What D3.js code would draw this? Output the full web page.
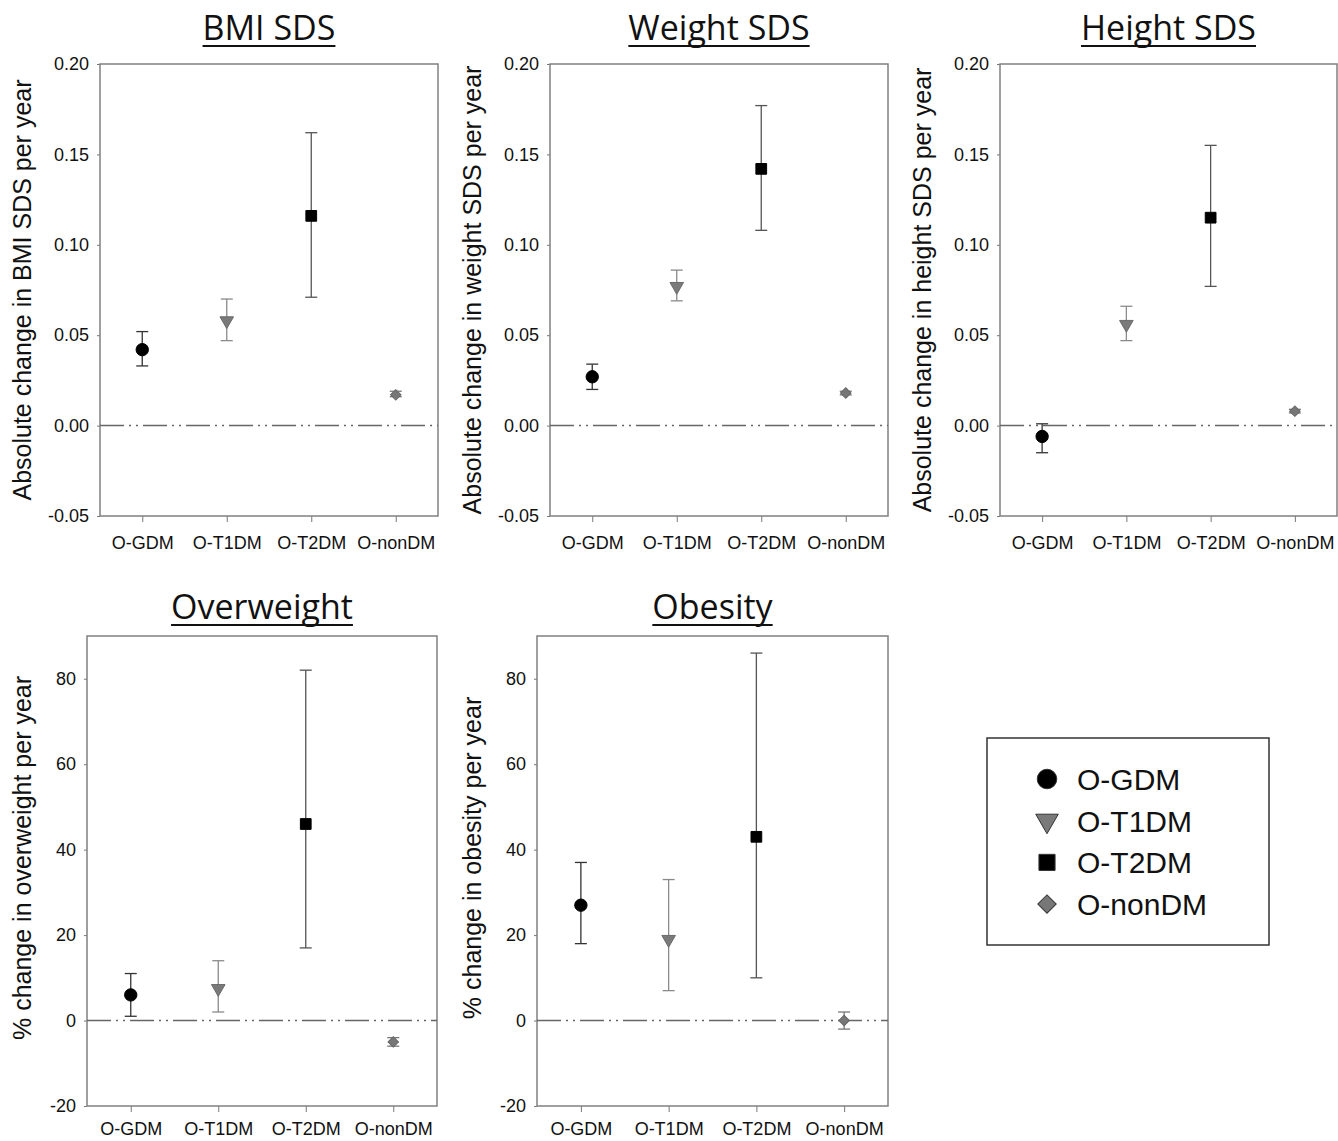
<!DOCTYPE html>
<html>
<head>
<meta charset="utf-8">
<script src="https://cdnjs.cloudflare.com/ajax/libs/d3/7.8.5/d3.min.js"></script>
<style>
  body { margin: 0; background: #fff; }
  text { font-family: "Liberation Sans", Arial, sans-serif; fill: #111; }
  .title { font-family: "Open Sans", "Noto Sans", sans-serif; font-size: 34px; }
</style>
</head>
<body>
<div id="chart"></div>
<script>
// groups and per-panel values (mean, lower CI, upper CI)
var groups = ['O-GDM', 'O-T1DM', 'O-T2DM', 'O-nonDM'];

var bmiMean = [0.042, 0.058, 0.116, 0.017];
var bmiLow  = [0.033, 0.047, 0.071, 0.016];
var bmiHigh = [0.052, 0.070, 0.162, 0.019];

var weightMean = [0.027, 0.077, 0.142, 0.018];
var weightLow  = [0.020, 0.069, 0.108, 0.017];
var weightHigh = [0.034, 0.086, 0.177, 0.019];

var heightMean = [-0.006, 0.056, 0.115, 0.008];
var heightLow  = [-0.015, 0.047, 0.077, 0.007];
var heightHigh = [0.001, 0.066, 0.155, 0.009];

var overweightMean = [6, 7.5, 46, -5];
var overweightLow  = [1, 2, 17, -6];
var overweightHigh = [11, 14, 82, -4];

var obesityMean = [27, 19, 43, 0];
var obesityLow  = [18, 7, 10, -2];
var obesityHigh = [37, 33, 86, 2];

var sdsTicks = [-0.05, 0, 0.05, 0.10, 0.15, 0.20];
var pctTicks = [-20, 0, 20, 40, 60, 80];

var titles = ['BMI SDS', 'Weight SDS', 'Height SDS', 'Overweight', 'Obesity'];
var yLabels = [
  'Absolute change in BMI SDS per year',
  'Absolute change in weight SDS per year',
  'Absolute change in height SDS per year',
  '% change in overweight per year',
  '% change in obesity per year'
];

var svg = d3.select('#chart').append('svg')
  .attr('width', 1338)
  .attr('height', 1141);

// marker look per group
var markerStyle = [
  {type: d3.symbolCircle, size: 120, rot: 0, fill: '#000', stroke: '#000', bar: '#333'},
  {type: d3.symbolTriangle, size: 80, rot: 180, fill: '#7a7a7a', stroke: '#6a6a6a', bar: '#8a8a8a'},
  {type: d3.symbolSquare, size: 115, rot: 0, fill: '#000', stroke: '#000', bar: '#555'},
  {type: d3.symbolSquare, size: 55, rot: 45, fill: '#777', stroke: '#666', bar: '#777'}
];

var panels = [
  {title: titles[0], ylab: yLabels[0], mean: bmiMean, lo: bmiLow, hi: bmiHigh,
   dom: [-0.05, 0.20], ticks: sdsTicks, fmt: '.2f',
   x0: 100, x1: 438, y0: 64, y1: 516, titleY: 40, labPad: 14, labOff: 78, labShift: 0},
  {title: titles[1], ylab: yLabels[1], mean: weightMean, lo: weightLow, hi: weightHigh,
   dom: [-0.05, 0.20], ticks: sdsTicks, fmt: '.2f',
   x0: 550, x1: 888, y0: 64, y1: 516, titleY: 40, labPad: 14, labOff: 78, labShift: 0},
  {title: titles[2], ylab: yLabels[2], mean: heightMean, lo: heightLow, hi: heightHigh,
   dom: [-0.05, 0.20], ticks: sdsTicks, fmt: '.2f',
   x0: 1000, x1: 1337, y0: 64, y1: 516, titleY: 40, labPad: 14, labOff: 78, labShift: 0},
  {title: titles[3], ylab: yLabels[3], mean: overweightMean, lo: overweightLow, hi: overweightHigh,
   dom: [-20, 90], ticks: pctTicks, fmt: 'd',
   x0: 87, x1: 437, y0: 636, y1: 1106, titleY: 619, labPad: 10, labOff: 65, labShift: -13},
  {title: titles[4], ylab: yLabels[4], mean: obesityMean, lo: obesityLow, hi: obesityHigh,
   dom: [-20, 90], ticks: pctTicks, fmt: 'd',
   x0: 537, x1: 888, y0: 636, y1: 1106, titleY: 619, labPad: 10, labOff: 65, labShift: -13}
];

var drawPanel = function(p) {
  var x = d3.scalePoint().domain(groups).range([p.x0, p.x1]).padding(0.5);
  var y = d3.scaleLinear().domain(p.dom).range([p.y1, p.y0]);
  var fmt = d3.format(p.fmt);
  var g = svg.append('g');

  // title with underline
  var cx = (p.x0 + p.x1) / 2;
  var t = g.append('text')
    .attr('class', 'title')
    .attr('x', cx)
    .attr('y', p.titleY)
    .attr('text-anchor', 'middle')
    .text(p.title);
  var w = t.node().getComputedTextLength();
  g.append('line')
    .attr('x1', cx - w / 2)
    .attr('x2', cx + w / 2)
    .attr('y1', p.titleY + 6)
    .attr('y2', p.titleY + 6)
    .attr('stroke', '#111')
    .attr('stroke-width', 2);

  // axes
  var ya = g.append('g')
    .attr('transform', 'translate(' + p.x0 + ',0)')
    .call(d3.axisLeft(y).tickValues(p.ticks)
      .tickFormat(function(d) { return fmt(d).replace('\u2212', '-'); })
      .tickSize(3).tickSizeOuter(0).tickPadding(8));
  var xa = g.append('g')
    .attr('transform', 'translate(0,' + p.y1 + ')')
    .call(d3.axisBottom(x).tickSize(6).tickSizeOuter(0).tickPadding(p.labPad));
  [ya, xa].forEach(function(a) {
    a.attr('font-family', null);
    a.select('.domain').remove();
    a.selectAll('line').attr('stroke', '#777');
    a.selectAll('text').style('font-size', '18px').attr('fill', '#111');
  });

  // frame
  g.append('rect')
    .attr('x', p.x0).attr('y', p.y0)
    .attr('width', p.x1 - p.x0).attr('height', p.y1 - p.y0)
    .attr('fill', 'none')
    .attr('stroke', '#808080')
    .attr('stroke-width', 1.5);

  // reference line at zero
  g.append('line')
    .attr('x1', p.x0).attr('x2', p.x1)
    .attr('y1', y(0)).attr('y2', y(0))
    .attr('stroke', '#666')
    .attr('stroke-width', 1.5)
    .attr('stroke-dasharray', '24,5,2,5,2,5');

  // y label
  g.append('text')
    .attr('transform', 'translate(' + (p.x0 - p.labOff) + ',' + ((p.y0 + p.y1) / 2 + p.labShift) + ') rotate(-90)')
    .attr('text-anchor', 'middle')
    .attr('dy', '0.35em')
    .style('font-size', '25px')
    .text(p.ylab);

  // error bars
  var bars = g.selectAll('.err').data(groups).enter().append('g').attr('class', 'err');
  bars.append('line')
    .attr('x1', function(d) { return x(d); })
    .attr('x2', function(d) { return x(d); })
    .attr('y1', function(d, i) { return y(p.lo[i]); })
    .attr('y2', function(d, i) { return y(p.hi[i]); })
    .attr('stroke', function(d, i) { return markerStyle[i].bar; })
    .attr('stroke-width', 1.3);
  ['lo', 'hi'].forEach(function(k) {
    bars.append('line')
      .attr('x1', function(d) { return x(d) - 6; })
      .attr('x2', function(d) { return x(d) + 6; })
      .attr('y1', function(d, i) { return y(p[k][i]); })
      .attr('y2', function(d, i) { return y(p[k][i]); })
      .attr('stroke', function(d, i) { return markerStyle[i].bar; })
      .attr('stroke-width', 1.3);
  });

  // markers
  g.selectAll('.pt').data(groups).enter().append('path')
    .attr('class', 'pt')
    .attr('d', function(d, i) { return d3.symbol().type(markerStyle[i].type).size(markerStyle[i].size)(); })
    .attr('transform', function(d, i) {
      return 'translate(' + x(d) + ',' + y(p.mean[i]) + ') rotate(' + markerStyle[i].rot + ')';
    })
    .attr('fill', function(d, i) { return markerStyle[i].fill; })
    .attr('stroke', function(d, i) { return markerStyle[i].stroke; })
    .attr('stroke-width', 1);
};

panels.forEach(drawPanel);

// legend
var legend = svg.append('g');
legend.append('rect')
  .attr('x', 987).attr('y', 738)
  .attr('width', 282).attr('height', 207)
  .attr('fill', '#fff')
  .attr('stroke', '#333')
  .attr('stroke-width', 1.5);

var legendSize = [300, 220, 260, 170];
var items = legend.selectAll('.item').data(groups).enter().append('g')
  .attr('class', 'item')
  .attr('transform', function(d, i) { return 'translate(1047,' + (779 + i * 41.7) + ')'; });
items.append('path')
  .attr('d', function(d, i) { return d3.symbol().type(markerStyle[i].type).size(legendSize[i])(); })
  .attr('transform', function(d, i) { return 'rotate(' + markerStyle[i].rot + ')'; })
  .attr('fill', function(d, i) { return markerStyle[i].fill; })
  .attr('stroke', '#333')
  .attr('stroke-width', 1);
items.append('text')
  .attr('x', 30)
  .attr('dy', '0.36em')
  .style('font-size', '30px')
  .text(function(d) { return d; });
</script>
</body>
</html>
